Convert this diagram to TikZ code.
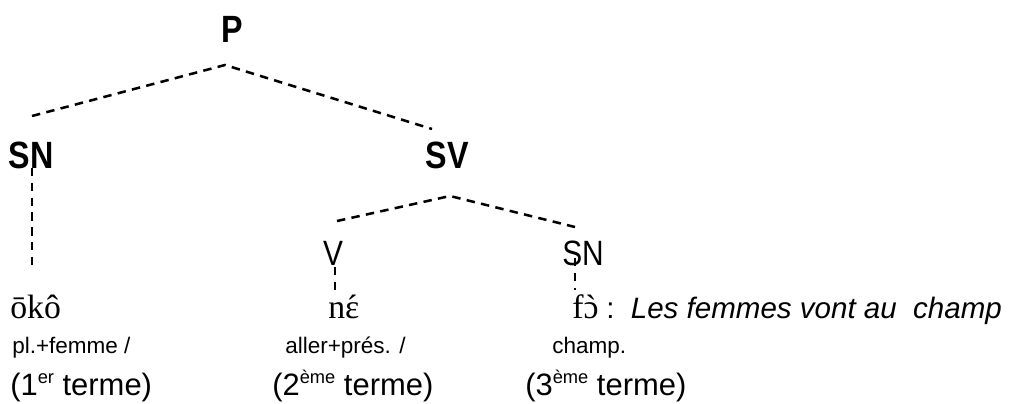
\documentclass[tikz,border=0pt]{standalone}
\usepackage{fontspec}
\setmainfont{Liberation Sans}
\newfontfamily\etiq{Liberation Sans}[FakeStretch=0.85]
\newfontfamily\motfont{Liberation Serif}
\usepackage{tikz}
\usetikzlibrary{positioning}
\newcommand\expo[1]{\raisebox{0.38em}{\fontsize{13}{13}\selectfont #1}}
\newcommand\surmonte[2]{\ooalign{#1\cr\hidewidth#2\hidewidth\cr}}

\begin{document}
\begin{tikzpicture}[
    x=0.025cm, y=-0.025cm,
    % styles des etiquettes de l'arbre
    cat/.style={font=\etiq\bfseries\fontsize{27}{29}\selectfont, inner sep=0pt, anchor=base},
    subcat/.style={font=\etiq\fontsize{25}{27}\selectfont, inner sep=0pt, anchor=base},
    % styles des lignes de texte
    mot/.style={font=\motfont\fontsize{24}{26}\selectfont, inner sep=0pt, anchor=base west},
    glose/.style={font=\fontsize{16}{18}\selectfont, inner sep=0pt, anchor=base west},
    terme/.style={font=\fontsize{22}{24}\selectfont, inner sep=0pt, anchor=base west},
    % style des branches
    tiret/.style={dash pattern=on 6pt off 4.5pt, line width=1.8pt}
]
\useasboundingbox (0,0) rectangle (1023,403);

% Les noeuds de l'arbre
\node (p) [cat] at (232,42) {P};
\node (sn) [cat] at (31,168) {SN};
\node (sv) [cat] at (447,168) {SV};
\node (v) [subcat] at (333,265) {V};
\node (snb) [subcat] at (583,265) {SN};

% Points d'attache des branches
\coordinate (pTop) at (225,65);
\coordinate (snTop) at (32,116);
\coordinate (svTop) at (432,129);
\coordinate (svApex) at (450,196);
\coordinate (vTop) at (337,221);
\coordinate (snbTop) at (575,227);
\coordinate (snHead) at (32,168);
\coordinate (snFoot) at (32,268);
\coordinate (vHead) at (335,267);
\coordinate (vFoot) at (335,296);
\coordinate (snbHead) at (575,258);
\coordinate (snbFoot) at (575,290);

% Les mots
\node (oko) [mot] at (10,318) {ōkô};
\node (ne) [mot] at (328,318) {n\surmonte{ɛ}{´}};
\node (fo) [mot] at (572,318) {f\surmonte{ɔ}{`}};
\node (trad) [anchor=base west, font=\fontsize{21}{24}\selectfont, inner sep=0pt] at (606,318) {:\ \ \textit{Les femmes vont au\ \ champ}};

% Les gloses
\node (gl1) [glose] at (12,353) {pl.+femme /};
\node (gl2) [glose] at (285,353) {aller+prés. /};
\node (gl3) [glose] at (552,353) {champ.};

% Les termes
\node (t1) [terme] at (10,395) {(1\expo{er} terme)};
\node (t2) [terme] at (272,395) {(2\expo{ème} terme)};
\node (t3) [terme] at (525,395) {(3\expo{ème} terme)};

% Les branches
\draw [tiret] (snTop) -- (pTop) -- (svTop);
\draw [tiret] (vTop) -- (svApex) -- (snbTop);
\draw [tiret] (snHead) -- (snFoot);
\draw [tiret] (vHead) -- (vFoot);
\draw [tiret] (snbHead) -- (snbFoot);

\end{tikzpicture}
\end{document}
